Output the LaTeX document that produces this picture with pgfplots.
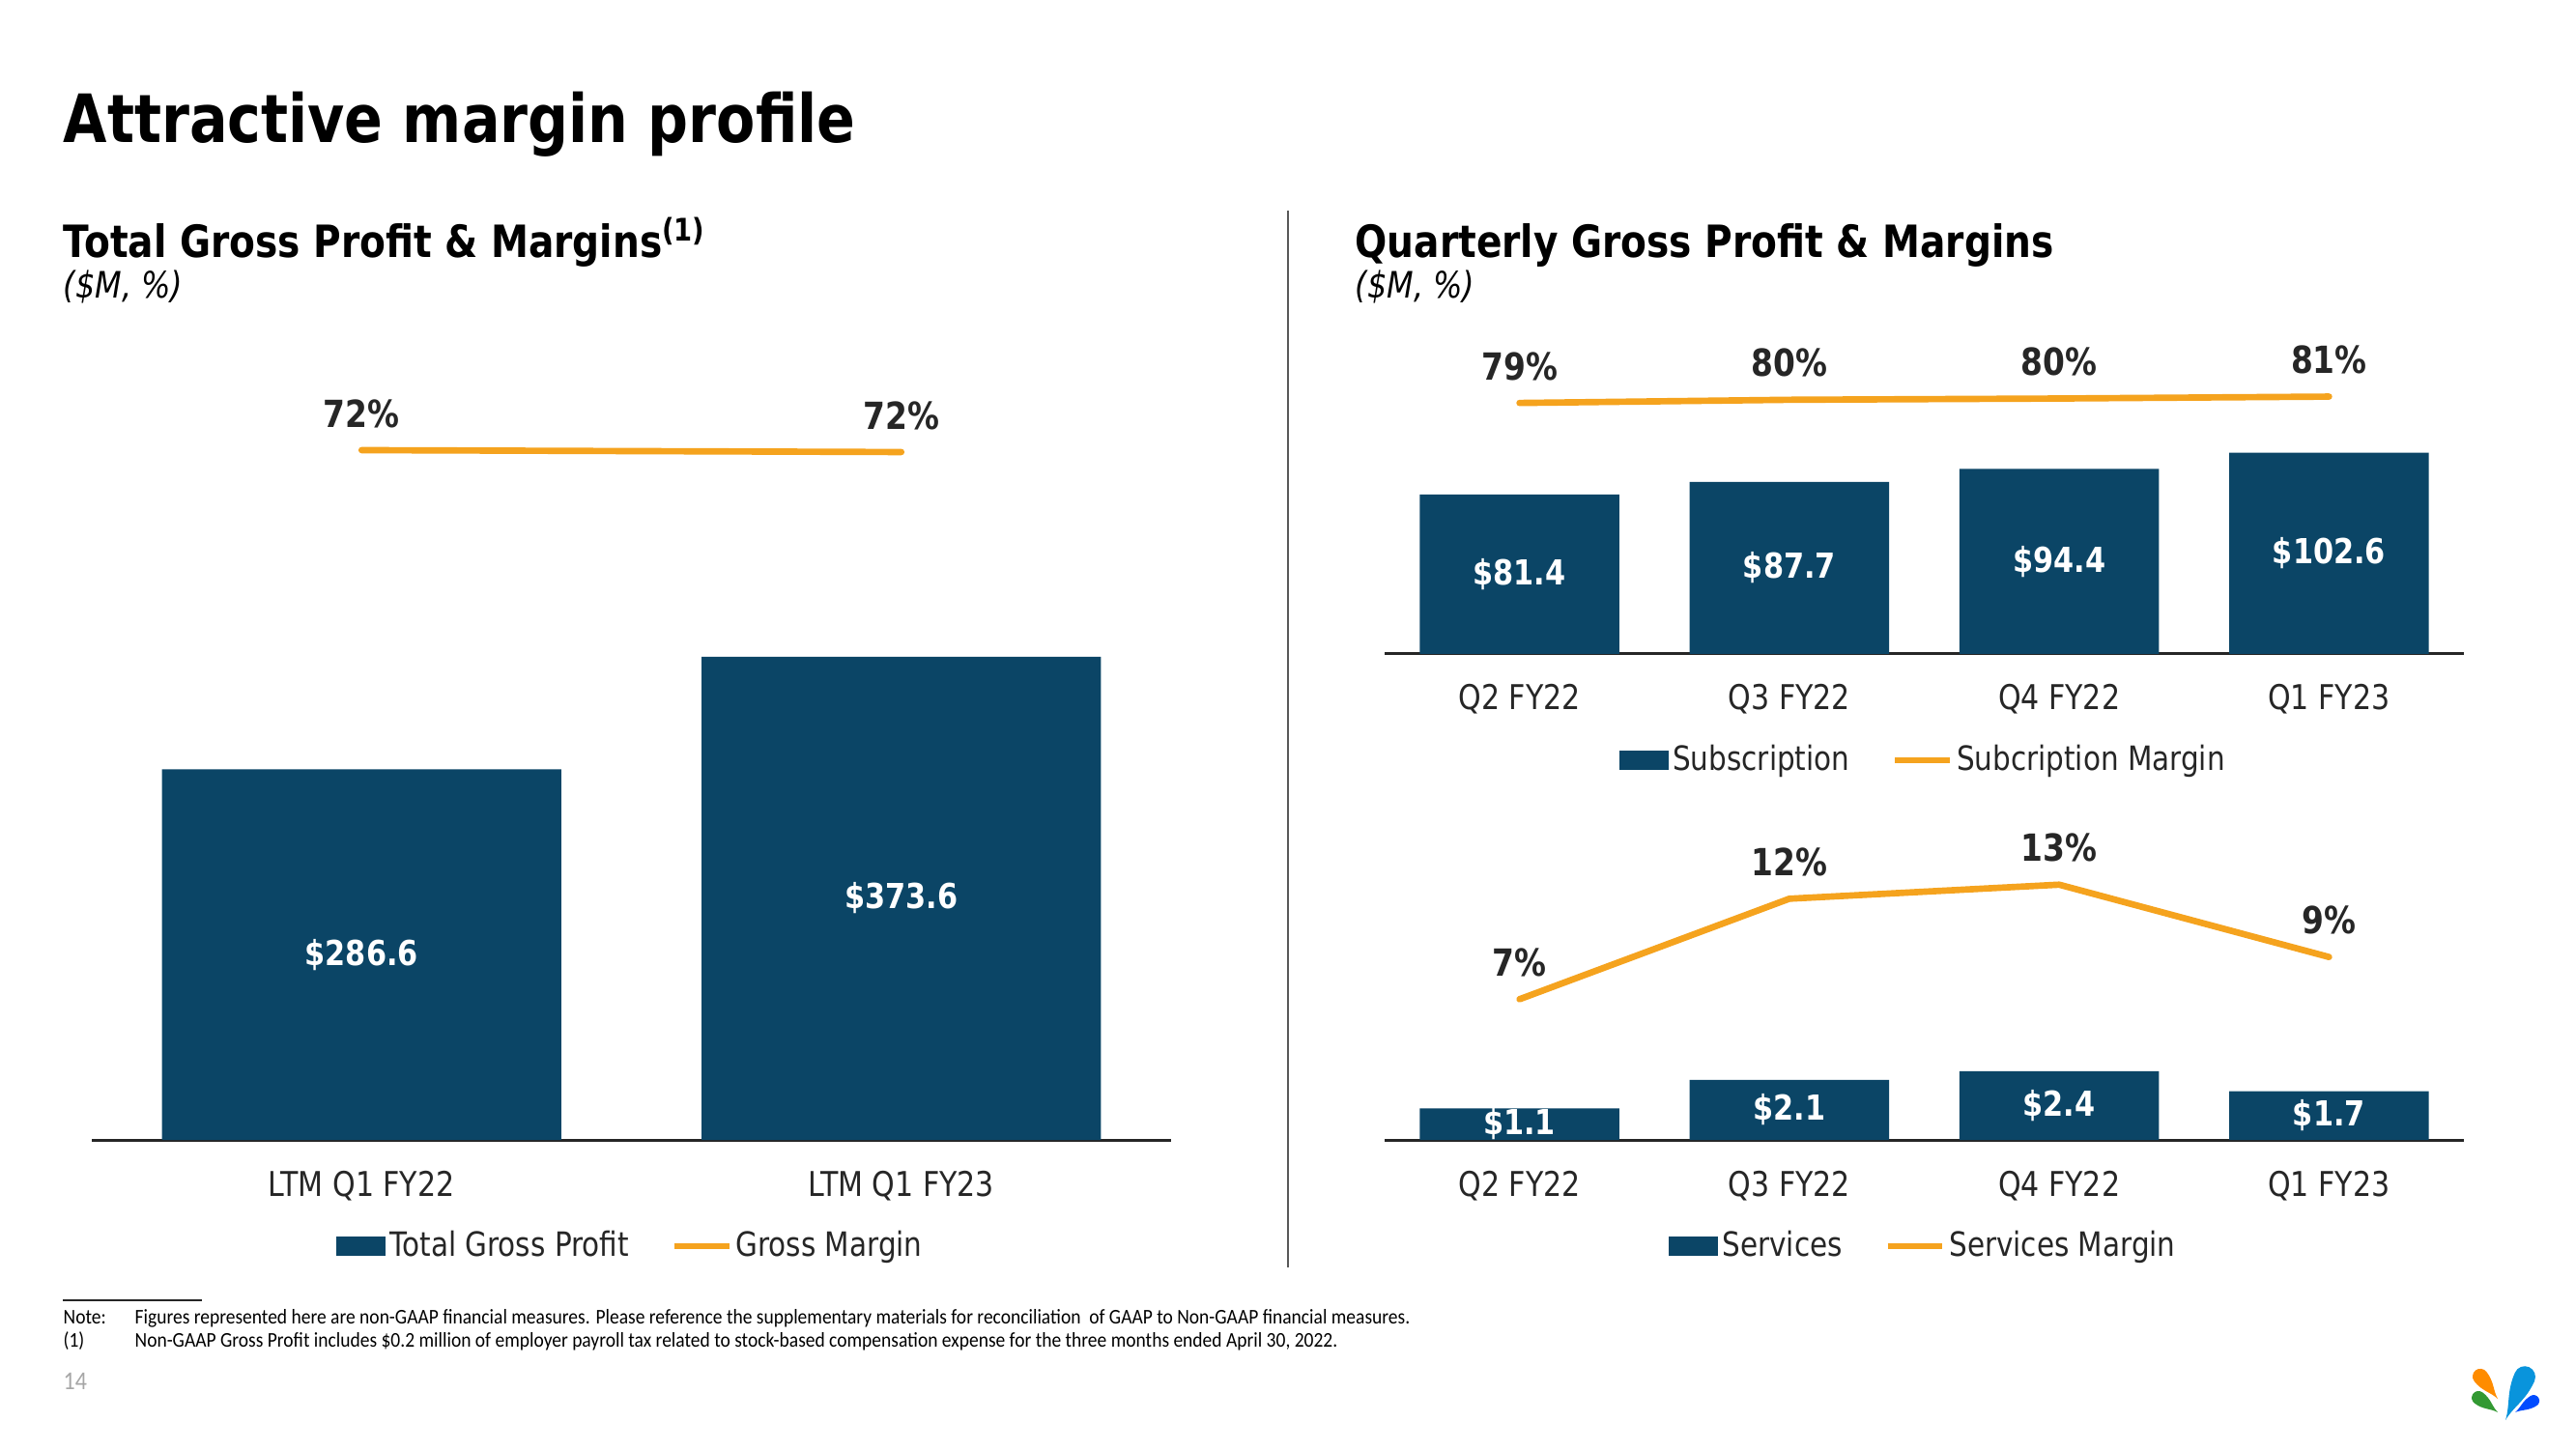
\documentclass[border=0pt]{standalone}
\usepackage{fontspec}
\setmainfont{DejaVu Sans}[FakeStretch=0.85]
\newfontfamily\calibri{Carlito}[FakeStretch=0.9]
\usepackage{pgfplots}
\pgfplotsset{compat=1.18}
\usepackage{pgfplotstable}
\definecolor{navy}{HTML}{0B4566}
\definecolor{gold}{HTML}{F5A31E}
\definecolor{txt}{HTML}{262626}

\pgfplotstableread{
x v
0 286.6
1 373.6
}\totalgp
\pgfplotstableread{
x m
0 72.0
1 71.8
}\totalgm
\pgfplotstableread{
x v
0 81.4
1 87.7
2 94.4
3 102.6
}\subgp
\pgfplotstableread{
x m
0 79.0
1 80.0
2 80.4
3 81.0
}\subgm
\pgfplotstableread{
x v
0 1.1
1 2.1
2 2.4
3 1.7
}\svcgp
\pgfplotstableread{
x m
0 7.0
1 12.0
2 12.7
3 9.1
}\svcgm

\pgfplotsset{
  barax/.style={
    anchor=south west, scale only axis, width=335.1pt, clip=false, ymin=0,
    xmin=-0.5,
    axis y line=none, axis x line*=bottom,
    x axis line style={draw=txt, line width=0.9pt, -},
    major tick length=0pt,
    xticklabel style={font=\fontsize{10.6}{12}\selectfont, text=txt, yshift=-6pt},
    /pgf/number format/assume math mode=true,
    legend columns=2,
    legend style={draw=none, fill=none, at={(0.5,0)}, anchor=center, yshift=-33pt,
      font=\fontsize{10.4}{12}\selectfont, text=txt,
      nodes={inner xsep=1.2pt, inner ysep=1pt},
      /tikz/every even column/.append style={column sep=12pt}},
  },
  lineax/.style={
    anchor=south west, scale only axis, width=335.1pt, clip=false, ymin=0,
    xmin=-0.5, hide axis,
    /pgf/number format/assume math mode=true,
  },
  bars/.style={draw=none, fill=navy, ybar, bar width=0.74,
    legend image code/.code={\fill[navy] (0pt,-3pt) rectangle (15.3pt,3pt);}},
  barlabels/.style={draw=none, mark=none, forget plot, point meta=explicit,
    nodes near coords={\$\pgfmathprintnumber[fixed,precision=1,fixed zerofill]{\pgfplotspointmeta}},
    nodes near coords style={anchor=center, text=white, font=\bfseries\fontsize{10.7}{12}\selectfont}},
  margin/.style={gold, line width=2pt, line cap=round, line join=round, mark=none,
    point meta=y,
    nodes near coords={\pgfmathprintnumber[fixed,precision=0]{\pgfplotspointmeta}\%},
    nodes near coords style={anchor=center, yshift=11.4pt, text=txt, font=\bfseries\fontsize{11.6}{13}\selectfont}},
  marginleg/.style={legend image code/.code={\draw[gold, line width=1.8pt] (0pt,0pt) -- (17pt,0pt);}},
}

\newcommand{\drop}[6]{%
  \fill[#1, shift={(#2,#3)}, rotate=#4] (0pt,0pt) .. controls (0.2*#6,0.35*#5) and (#6,0.55*#5) .. (#6,#5)
    arc[start angle=0,end angle=180,radius=#6] .. controls (-#6,0.55*#5) and (-0.2*#6,0.35*#5) .. (0pt,0pt) -- cycle;}

\begin{document}
\begin{tikzpicture}
\path[use as bounding box, fill=white] (0pt,0pt) rectangle (799.8pt,450pt);

% titles
\node[anchor=base west, inner sep=0pt, font=\bfseries\fontsize{20.7}{24}\selectfont] at (19.5pt,405.6pt) {Attractive margin profile};
\node[anchor=base west, inner sep=0pt, font=\bfseries\fontsize{13.8}{16}\selectfont] at (19.5pt,369.9pt) {Total Gross Profit \& Margins\textsuperscript{(1)}};
\node[anchor=base west, inner sep=0pt, font=\itshape\fontsize{11.3}{13}\selectfont] at (19.5pt,357.3pt) {(\$M, \%)};
\node[anchor=base west, inner sep=0pt, font=\bfseries\fontsize{13.8}{16}\selectfont] at (420.6pt,369.9pt) {Quarterly Gross Profit \& Margins};
\node[anchor=base west, inner sep=0pt, font=\itshape\fontsize{11.3}{13}\selectfont] at (420.6pt,357.3pt) {(\$M, \%)};

% divider
\draw[color=black!65, line width=0.6pt] (399.9pt,384.6pt) -- (399.9pt,56.4pt);

% left chart
\begin{axis}[barax, at={(28.5pt,96pt)}, height=240pt, xmax=1.5, ymax=597.5,
  xtick={0,1}, xticklabels={LTM Q1 FY22, LTM Q1 FY23}]
\addplot[bars] table[x=x,y=v]{\totalgp};
\addlegendentry{Total Gross Profit}
\addlegendimage{marginleg}
\addlegendentry{Gross Margin}
\addplot[barlabels] table[x=x, y expr=\thisrow{v}/2, meta=v]{\totalgp};
\end{axis}
\begin{axis}[lineax, at={(28.5pt,96pt)}, height=240pt, xmax=1.5, ymax=80.67]
\addplot[margin] table[x=x,y=m]{\totalgm};
\end{axis}

% right top
\begin{axis}[barax, at={(429.9pt,246.9pt)}, height=90pt, xmax=3.5, ymax=147.8,
  xtick={0,1,2,3}, xticklabels={Q2 FY22, Q3 FY22, Q4 FY22, Q1 FY23}]
\addplot[bars] table[x=x,y=v]{\subgp};
\addlegendentry{Subscription}
\addlegendimage{marginleg}
\addlegendentry{Subcription Margin}
\addplot[barlabels] table[x=x, y expr=\thisrow{v}/2, meta=v]{\subgp};
\end{axis}
\begin{axis}[lineax, at={(429.9pt,246.9pt)}, height=90pt, xmax=3.5, ymax=91.2]
\addplot[margin] table[x=x,y=m]{\subgm};
\end{axis}

% right bottom
\begin{axis}[barax, at={(429.9pt,96pt)}, height=90pt, xmax=3.5, ymax=10.14,
  xtick={0,1,2,3}, xticklabels={Q2 FY22, Q3 FY22, Q4 FY22, Q1 FY23}]
\addplot[bars] table[x=x,y=v]{\svcgp};
\addlegendentry{Services}
\addlegendimage{marginleg}
\addlegendentry{Services Margin}
\addplot[barlabels] table[x=x, y expr=\thisrow{v}/2, meta=v]{\svcgp};
\end{axis}
\begin{axis}[lineax, at={(429.9pt,96pt)}, height=90pt, xmax=3.5, ymax=14.42]
\addplot[margin] table[x=x,y=m]{\svcgm};
\end{axis}

% footnotes
\draw[line width=0.4pt, txt] (19.5pt,46.2pt) -- (62.7pt,46.2pt);
\node[anchor=base west, inner sep=0pt, font=\calibri\fontsize{6.5}{7}\selectfont] at (19.5pt,39pt) {Note:};
\node[anchor=base west, inner sep=0pt, font=\calibri\fontsize{6.5}{7}\selectfont] at (41.7pt,39pt) {Figures represented here are non-GAAP financial measures. Please reference the supplementary materials for reconciliation\ \ of GAAP to Non-GAAP financial measures.};
\node[anchor=base west, inner sep=0pt, font=\calibri\fontsize{6.5}{7}\selectfont] at (19.5pt,31.8pt) {(1)};
\node[anchor=base west, inner sep=0pt, font=\calibri\fontsize{6.5}{7}\selectfont] at (41.7pt,31.8pt) {Non-GAAP Gross Profit includes \$0.2 million of employer payroll tax related to stock-based compensation expense for the three months ended April 30, 2022.};
\node[anchor=base west, inner sep=0pt, text=black!35, font=\calibri\fontsize{8}{9}\selectfont] at (19.5pt,18.6pt) {14};

% logo
\drop{orange!90!yellow}{775.5pt}{15.6pt}{38}{8.8pt}{2.4pt}
\drop{cyan!80!blue}{777.9pt}{9pt}{-24}{14.7pt}{3.3pt}
\drop{green!50!black!80!white}{775.5pt}{11.4pt}{53}{7.5pt}{2.1pt}
\drop{blue!70!cyan}{780.9pt}{11.4pt}{-58}{6.75pt}{1.8pt}
\end{tikzpicture}
\end{document}
